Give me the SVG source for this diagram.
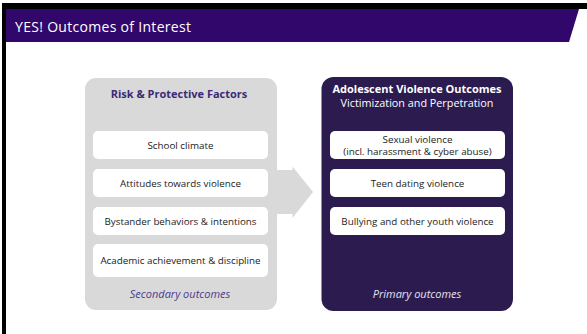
<svg xmlns="http://www.w3.org/2000/svg" width="587" height="334" viewBox="0 0 587 334">
<style>
text{font-family:"Open Sans","Noto Sans","Liberation Sans",sans-serif}
.box{fill:#ffffff}
.t{font-size:9.8px;fill:#222222;text-anchor:middle}
.hd{font-size:11px;font-weight:bold;text-anchor:middle}
.ft{font-size:11px;font-style:italic;text-anchor:middle}
</style>
<rect x="0" y="0" width="587" height="334" fill="#ffffff"/>
<rect x="2" y="3" width="585" height="6" fill="#000000"/>
<rect x="2" y="3" width="4" height="331" fill="#000000"/>
<polygon points="6,9 579,9 569,42 6,42" fill="#32076b"/>
<text x="15" y="31.5" font-size="14" fill="#ffffff" textLength="176">YES! Outcomes of Interest</text>
<g id="connectors">
<polygon points="270,170 292.5,170 292.5,166.5 313,192 292.5,218 292.5,214 270,214" fill="#d9d9d9"/>
</g>
<g id="risk-factors">
<rect x="85" y="78" width="192" height="232" rx="11" fill="#d9d9d9"/>
<text x="179" y="97.5" class="hd" fill="#3b2a78">Risk &amp; Protective Factors</text>
<text x="180" y="297.5" class="ft" fill="#4b3b8c">Secondary outcomes</text>
</g>
<g id="school-climate"><rect class="box" x="93" y="131" width="175" height="28" rx="5"/><text class="t" x="180.5" y="148.5">School climate</text></g>
<g id="attitudes"><rect class="box" x="93" y="169" width="175" height="28" rx="5"/><text class="t" x="180.5" y="186.5">Attitudes towards violence</text></g>
<g id="bystander"><rect class="box" x="93" y="207" width="175" height="28" rx="5"/><text class="t" x="180.5" y="224.5">Bystander behaviors &amp; intentions</text></g>
<g id="academic"><rect class="box" x="93" y="244" width="175" height="33" rx="5"/><text class="t" x="180.5" y="264">Academic achievement &amp; discipline</text></g>
<g id="violence-outcomes">
<rect x="321.5" y="77" width="191.5" height="234" rx="12" fill="#2b1b4f"/>
<text x="417" y="92.7" class="hd" fill="#ffffff">Adolescent Violence Outcomes</text>
<text x="417" y="106.7" font-size="10.8" fill="#ffffff" text-anchor="middle">Victimization and Perpetration</text>
<text x="417" y="297.5" class="ft" fill="#e6e2f2">Primary outcomes</text>
</g>
<g id="sexual-violence"><rect class="box" x="330" y="131" width="175" height="28" rx="5"/><text class="t" x="417.5" y="143">Sexual violence</text><text class="t" x="417.5" y="154.6">(incl. harassment &amp; cyber abuse)</text></g>
<g id="teen-dating"><rect class="box" x="330" y="169" width="175" height="28" rx="5"/><text class="t" x="417.5" y="186.5">Teen dating violence</text></g>
<g id="bullying"><rect class="box" x="330" y="207" width="175" height="28" rx="5"/><text class="t" x="417.5" y="224.5">Bullying and other youth violence</text></g>
</svg>
